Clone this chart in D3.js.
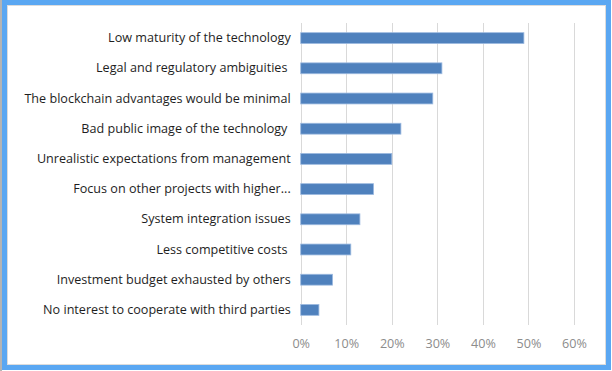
<!DOCTYPE html>
<html>
<head>
<meta charset="utf-8">
<script src="https://cdn.jsdelivr.net/npm/d3@7"></script>
<style>
  html, body { margin: 0; padding: 0; background: #fff; }
  svg { display: block; }
</style>
</head>
<body>
<svg id="chart" width="612" height="371"></svg>
<script>
// categories, top to bottom
const reasons = [
  "Low maturity of the technology",
  "Legal and regulatory ambiguities ",
  "The blockchain advantages would be minimal",
  "Bad public image of the technology ",
  "Unrealistic expectations from management",
  "Focus on other projects with higher...",
  "System integration issues",
  "Less competitive costs ",
  "Investment budget exhausted by others",
  "No interest to cooperate with third parties"
];

// share of respondents
const shares = [0.49, 0.31, 0.29, 0.22, 0.20, 0.16, 0.13, 0.11, 0.07, 0.04];

// x axis ticks
const tickValues = [0, 0.1, 0.2, 0.3, 0.4, 0.5, 0.6];

const svg = d3.select("#chart");
const W = 612, H = 371;

// frame round the chart
svg.append("rect")
  .attr("x", 0).attr("y", 0).attr("width", 2).attr("height", H)
  .attr("fill", "#b4b4b4");
svg.append("rect")
  .attr("x", 4.5).attr("y", 2.5).attr("width", W - 8).attr("height", H - 6)
  .attr("fill", "#fff")
  .attr("stroke", "#5aa7f2")
  .attr("stroke-width", 5);
svg.append("rect")
  .attr("x", 7.5).attr("y", 5.5).attr("width", W - 14).attr("height", H - 12)
  .attr("fill", "none")
  .attr("stroke", "#dcdcdc")
  .attr("stroke-width", 1);

const plot = { left: 300.7, right: 574, top: 23, bottom: 325 };

const x = d3.scaleLinear()
  .domain([0, 0.6])
  .range([plot.left, plot.right]);

const y = d3.scaleBand()
  .domain(reasons)
  .range([plot.top, plot.bottom])
  .paddingInner(0.64)
  .paddingOuter(0.32);

// gridlines
svg.append("g")
  .selectAll("line")
  .data(tickValues)
  .join("line")
  .attr("x1", d => Math.round(x(d)) + 0.5)
  .attr("x2", d => Math.round(x(d)) + 0.5)
  .attr("y1", plot.top)
  .attr("y2", plot.bottom)
  .attr("stroke", "#d9d9d9")
  .attr("stroke-width", 1);

// bars
svg.append("g")
  .selectAll("rect")
  .data(shares)
  .join("rect")
  .attr("x", x(0))
  .attr("y", (d, i) => y(reasons[i]))
  .attr("width", d => x(d) - x(0))
  .attr("height", y.bandwidth())
  .attr("fill", "#4f81bd")
  .attr("stroke", "#9dbae0")
  .attr("stroke-width", 0.8);

// category labels
const yAxis = d3.axisLeft(y).tickSize(0).tickPadding(10);
const gy = svg.append("g")
  .attr("transform", `translate(${plot.left},0)`)
  .call(yAxis);
gy.select(".domain").remove();
gy.selectAll("text")
  .style("font-family", "'Open Sans', sans-serif")
  .style("font-size", "12.6px")
  .attr("fill", "#1e1e1e")
  .attr("xml:space", "preserve");

// percent labels
const xAxis = d3.axisBottom(x)
  .tickValues(tickValues)
  .tickSize(0)
  .tickPadding(14)
  .tickFormat(d3.format(".0%"));
const gx = svg.append("g")
  .attr("transform", `translate(0,${plot.bottom})`)
  .call(xAxis);
gx.select(".domain").remove();
gx.selectAll("text")
  .style("font-family", "'Open Sans', sans-serif")
  .style("font-size", "12.6px")
  .attr("fill", "#8c8c8c");
</script>
</body>
</html>
